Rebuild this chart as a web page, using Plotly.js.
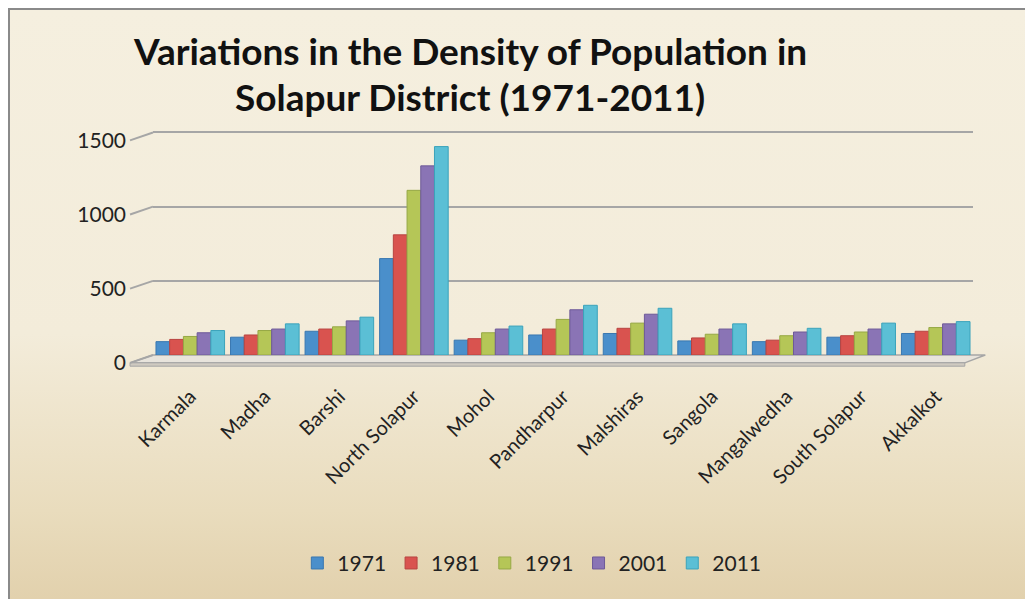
<!DOCTYPE html>
<html>
<head>
<meta charset="utf-8">
<script src="https://cdn.plot.ly/plotly-3.0.1.min.js"></script>
<style>
  html, body { margin: 0; padding: 0; width: 1025px; height: 599px; overflow: hidden; background: #fff; }
  #frame { position: absolute; left: 8px; top: 8px; width: 1017px; height: 591px;
           border-left: 2px solid #8a8a8a; border-top: 2px solid #8a8a8a; box-sizing: border-box;
           background: linear-gradient(to bottom, #f5efdf 0%, #f3ecda 55%, #e9dcbd 85%, #e2d1ad 100%); }
  #chart { position: absolute; left: 0; top: 0; width: 1025px; height: 599px; }
</style>
</head>
<body>
<div id="frame"></div>
<div id="chart"></div>
<script>
const categories = ["Karmala", "Madha", "Barshi", "North Solapur", "Mohol", "Pandharpur",
                    "Malshiras", "Sangola", "Mangalwedha", "South Solapur", "Akkalkot"];
const years = ["1971", "1981", "1991", "2001", "2011"];
const d1971 = [90, 120, 160, 650, 100, 135, 145, 95, 90, 120, 145];
const d1981 = [105, 135, 175, 810, 110, 175, 180, 115, 100, 130, 160];
const d1991 = [125, 165, 190, 1110, 150, 240, 215, 140, 130, 155, 185];
const d2001 = [150, 175, 230, 1275, 175, 305, 275, 175, 155, 175, 210];
const d2011 = [165, 210, 255, 1405, 195, 335, 315, 210, 180, 215, 225];
const tickValues = [0, 500, 1000, 1500];
const seriesValues = [d1971, d1981, d1991, d2001, d2011];
const colors = ["#4a8fcb", "#d9534f", "#b5c657", "#8a74b5", "#5bbfd5"];
const lineColors = ["#3a78b0", "#b84440", "#96a845", "#6e5a98", "#3ba3bb"];

const traces = years.map((y, i) => ({
  type: "bar",
  name: y,
  x: categories,
  y: seriesValues[i],
  marker: { color: colors[i], line: { color: lineColors[i], width: 1 } },
  hoverinfo: "x+y+name"
}));

const yTop = 1510;
// side-wall diagonal stubs for each gridline (3D look)
const shapes = tickValues.map(v => ({
  type: "line", xref: "paper", yref: "paper",
  x0: -0.028, y0: v / yTop - 0.035, x1: 0, y1: v / yTop,
  line: { color: "#a6a6a6", width: 2 }
}));
// floor slab
shapes.push({
  type: "path", xref: "paper", yref: "paper",
  path: "M -0.028,-0.035 L 0,0 L 1.015,0 L 0.99,-0.035 Z",
  fillcolor: "#e8e4dc", line: { color: "#a6a6a6", width: 1.5 }, layer: "below"
});
shapes.push({
  type: "path", xref: "paper", yref: "paper",
  path: "M -0.028,-0.035 L 0.99,-0.035 L 0.99,-0.05 L -0.028,-0.05 Z",
  fillcolor: "#cfcac0", line: { color: "#a6a6a6", width: 1 }, layer: "below"
});

const fontFam = "Lato, 'Open Sans', sans-serif";
const layout = {
  width: 1025, height: 599,
  paper_bgcolor: "rgba(0,0,0,0)",
  plot_bgcolor: "rgba(0,0,0,0)",
  margin: { l: 153, r: 52, t: 131, b: 244 },
  barmode: "group",
  bargap: 0.08,
  bargroupgap: 0,
  showlegend: true,
  shapes: shapes,
  annotations: [
    { text: "<b>Variations in the Density of Population in</b>", xref: "paper", yref: "paper",
      x: 0.387, y: 1.36, xanchor: "center", yanchor: "middle", showarrow: false,
      font: { family: fontFam, size: 37, color: "#111" } },
    { text: "<b>Solapur District (1971-2011)</b>", xref: "paper", yref: "paper",
      x: 0.387, y: 1.155, xanchor: "center", yanchor: "middle", showarrow: false,
      font: { family: fontFam, size: 37, color: "#111" } }
  ],
  xaxis: {
    type: "category",
    tickangle: -45,
    tickfont: { family: fontFam, size: 20, color: "#222" },
    showgrid: false,
    showline: false,
    ticks: "", automargin: false,
    ticklabelstandoff: 25
  },
  yaxis: {
    range: [0, yTop],
    tickvals: tickValues,
    ticktext: tickValues.map(String),
    tickfont: { family: fontFam, size: 21, color: "#222" },
    showgrid: true, gridcolor: "#a6a6a6", gridwidth: 2,
    zeroline: false, showline: false, ticks: "", ticklen: 0,
    automargin: false,
    ticklabelstandoff: 26,
    ticklabelshift: 8
  },
  legend: {
    orientation: "h", x: 0.462, xanchor: "center", y: -0.93, yanchor: "middle",
    font: { family: fontFam, size: 21, color: "#222" },
    bgcolor: "rgba(0,0,0,0)", itemwidth: 30, traceorder: "normal"
  }
};

Plotly.newPlot("chart", traces, layout, { displayModeBar: false, staticPlot: true });
</script>
</body>
</html>
